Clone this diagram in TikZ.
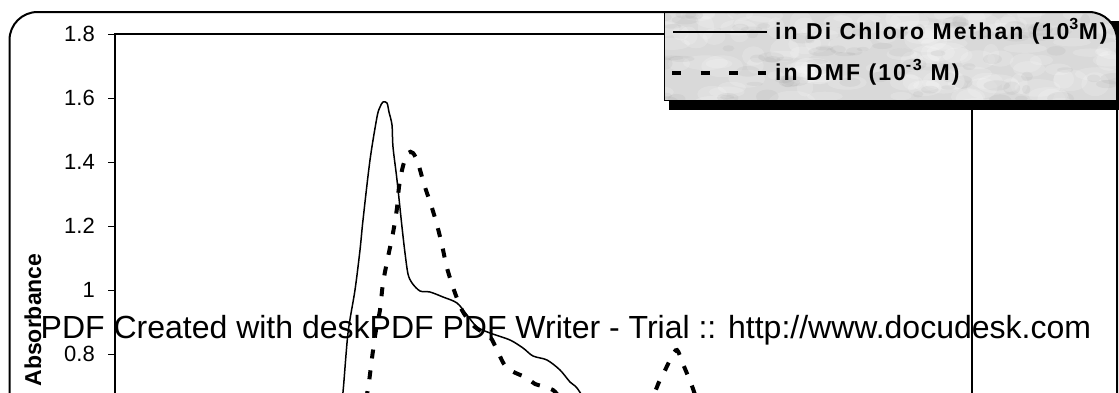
\documentclass[tikz,border=0pt]{standalone}
\usepackage{fontspec}
\setmainfont{Liberation Sans}
\newfontfamily\legfont[LetterSpace=9]{Liberation Sans}
\begin{document}
\begin{tikzpicture}[x=1pt,y=-1pt,
  axisline/.style={line width=1.4pt},
  solidcurve/.style={line width=1.5pt, line join=round},
  dashcurve/.style={line width=4pt, dash pattern=on 9pt off 12pt},
  ticklabel/.style={anchor=east, inner sep=0pt, font=\fontsize{22}{26}\selectfont},
  legtext/.style={anchor=base west, inner sep=0pt, font=\legfont\bfseries\fontsize{23}{27}\selectfont}]
\useasboundingbox (0,0) rectangle (1119,392);
\clip (0,0) rectangle (1119,392);
\fill[white] (0,0) rectangle (1119,392);

% plot frame
\coordinate (pTL) at (115,34);
\coordinate (pBL) at (115,430);
\coordinate (pTR) at (972,34);
\coordinate (pBR) at (972,430);
\draw[axisline] (pBL) -- (pTL) -- (pTR) -- (pBR);

% ticks and labels
\foreach \v/\t/\nm in {1.8/1.8/a,1.6/1.6/b,1.4/1.4/c,1.2/1.2/d,1.0/1/e,0.8/0.8/f}{
  \pgfmathsetmacro\yy{34+(1.8-\v)/0.2*64}
  \coordinate (tk\nm) at (108,\yy);
  \coordinate (ax\nm) at (115,\yy);
  \draw[line width=1pt] (tk\nm) -- (ax\nm);
  \node[ticklabel] (lab\nm) at (95,\yy) {\t};
}

% axis title
\node[rotate=90, anchor=base, inner sep=0pt, font=\bfseries\fontsize{23}{27}\selectfont] (ytitle) at (41,320) {Absorbance};

% curve: Di Chloro Methan (solid)
\draw[solidcurve] plot[smooth, tension=0.5] coordinates {
(340,410) (343,392) (348,333) (355,290) (360,250) (363,220) (370,160) (377,117) (380,107) (383,102) (387,103) (389,112) (392,125) (393,147) (397,180) (402,227) (405,253) (408,274) (412,283) (420,291) (430,292) (443,297) (457,303) (467,315) (477,327) (490,333) (510,340) (523,348) (533,356) (547,360) (560,370) (570,382) (577,388) (588,405)};

% curve: DMF (dashed)
\draw[dashcurve] plot[smooth, tension=0.5] coordinates {
(366,400) (369,382) (372,358) (376,330) (380,310) (383,283) (388,257) (393,233) (397,208) (399,187) (403,166) (408,153) (413,153) (418,163) (424,184) (432,208) (437,225) (442,245) (447,268) (455,293) (463,312) (475,327) (490,337) (497,350) (507,368) (527,378) (535,384) (553,390) (575,410) (640,412) (660,380) (671,358) (677,350) (683,364) (692,386) (700,410)};

% outer rounded frame path
\def\framepath{(9.5,430) -- (9.5,12) -- (1117,12) -- (1117,430)}

% legend shadow
\fill[black] (669,21) rectangle (1130,109.5);
% legend box with mottled texture
\begin{scope}
  \clip[rounded corners=28pt] (9.5,430) -- (9.5,12) -- (1117,12) -- (1117,430) -- cycle;
  \clip (664,12) rectangle (1130,100);
  \fill[black!15] (664,12) rectangle (1130,100);
  \pgfmathsetseed{11}
  \foreach \i in {1,...,140}{
    \pgfmathsetmacro\px{660+470*rnd}
    \pgfmathsetmacro\py{8+96*rnd}
    \pgfmathsetmacro\rx{8+16*rnd}
    \pgfmathsetmacro\ry{4+8*rnd}
    \fill[white, opacity=0.18] (\px,\py) ellipse ({\rx pt} and {\ry pt});
  }
  \foreach \i in {1,...,90}{
    \pgfmathsetmacro\px{660+470*rnd}
    \pgfmathsetmacro\py{8+96*rnd}
    \pgfmathsetmacro\rx{4+10*rnd}
    \pgfmathsetmacro\ry{2+5*rnd}
    \fill[black!45, opacity=0.10] (\px,\py) ellipse ({\rx pt} and {\ry pt});
  }
\end{scope}
\draw[line width=1pt] (664,12) -- (664,100) -- (1130,100);

% legend entries
\coordinate (l1a) at (673,32);
\coordinate (l1b) at (767,32);
\draw[solidcurve] (l1a) -- (l1b);
\node[legtext] (leg1) at (775,39) {in Di Chloro Methan (10\textsuperscript{3}M)};
\coordinate (l2a) at (672,73);
\coordinate (l2b) at (766,73);
\draw[line width=4pt, dash pattern=on 9pt off 19.5pt] (l2a) -- (l2b);
\node[legtext] (leg2) at (775,80) {in DMF (10\textsuperscript{-3} M)};

% outer frame
\draw[line width=2pt, rounded corners=28pt] \framepath;

% watermark
\node[anchor=base west, inner sep=0pt, font=\fontsize{32}{38}\selectfont] (wm) at (40.5,338) {PDF Created with deskPDF PDF Writer - Trial :: http://www.docudesk.com};
\end{tikzpicture}
\end{document}
